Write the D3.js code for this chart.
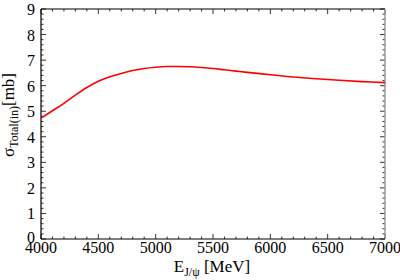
<!DOCTYPE html>
<html>
<head>
<meta charset="utf-8">
<script src="https://cdn.jsdelivr.net/npm/d3@7"></script>
<style>
  body { margin: 0; background: #fff; }
  svg { display: block; }
  text { font-family: "Liberation Serif", "DejaVu Serif", serif; }
</style>
</head>
<body>
<div id="chart"></div>
<script>
// energy of J/psi (MeV) and total inelastic cross section (mb)
const energy = [4000, 4100, 4200, 4300, 4400, 4500, 4600, 4700, 4800, 4900,
  5000, 5100, 5200, 5300, 5400, 5500, 5600, 5700, 5800, 6000,
  6200, 6400, 6600, 6800, 7000];
const sigma = [4.73, 5.02, 5.31, 5.63, 5.93, 6.17, 6.35, 6.48, 6.59, 6.67,
  6.72, 6.75, 6.75, 6.74, 6.71, 6.67, 6.62, 6.57, 6.52, 6.43,
  6.34, 6.27, 6.21, 6.16, 6.12];
const xTicks = [4000, 4500, 5000, 5500, 6000, 6500, 7000];
const yTicks = [0, 1, 2, 3, 4, 5, 6, 7, 8, 9];

const width = 400, height = 280;
const margin = { top: 9, right: 15, bottom: 41, left: 41 };

const svg = d3.select("#chart").append("svg")
  .attr("width", width)
  .attr("height", height);

const x = d3.scaleLinear().domain([4000, 7000])
  .range([margin.left, width - margin.right]);
const y = d3.scaleLinear().domain([0, 9])
  .range([height - margin.bottom, margin.top]);

const x0 = x.range()[0], x1 = x.range()[1];
const y0 = y.range()[0], y1 = y.range()[1];

// minor ticks
const xMinor = d3.range(4000, 7001, 100).filter((v) => v % 500 !== 0);
const yMinor = d3.range(0, 9.001, 0.2).filter((v) => Math.abs(v - Math.round(v)) > 1e-6);

const ticks = svg.append("g").attr("stroke", "#000").attr("stroke-width", 0.8);

// bottom & top
xTicks.forEach((v) => {
  ticks.append("line").attr("x1", x(v)).attr("x2", x(v)).attr("y1", y0).attr("y2", y0 - 5);
  ticks.append("line").attr("x1", x(v)).attr("x2", x(v)).attr("y1", y1).attr("y2", y1 + 5);
});
xMinor.forEach((v) => {
  ticks.append("line").attr("x1", x(v)).attr("x2", x(v)).attr("y1", y0).attr("y2", y0 - 2.5);
  ticks.append("line").attr("x1", x(v)).attr("x2", x(v)).attr("y1", y1).attr("y2", y1 + 2.5);
});
// left & right
yTicks.forEach((v) => {
  ticks.append("line").attr("x1", x0).attr("x2", x0 + 5).attr("y1", y(v)).attr("y2", y(v));
  ticks.append("line").attr("x1", x1).attr("x2", x1 - 5).attr("y1", y(v)).attr("y2", y(v));
});
yMinor.forEach((v) => {
  ticks.append("line").attr("x1", x0).attr("x2", x0 + 2.5).attr("y1", y(v)).attr("y2", y(v));
  ticks.append("line").attr("x1", x1).attr("x2", x1 - 2.5).attr("y1", y(v)).attr("y2", y(v));
});

// frame
svg.append("line").attr("x1", x0).attr("x2", x1).attr("y1", y1).attr("y2", y1).attr("stroke", "#000");
svg.append("line").attr("x1", x1).attr("x2", x1).attr("y1", y1).attr("y2", y0).attr("stroke", "#999").attr("stroke-width", 1.5);
svg.append("line").attr("x1", x0).attr("x2", x0).attr("y1", y1).attr("y2", y0).attr("stroke", "#000").attr("stroke-width", 1.2);
svg.append("line").attr("x1", x0).attr("x2", x1).attr("y1", y0).attr("y2", y0).attr("stroke", "#000").attr("stroke-width", 1.2);

// tick labels
svg.append("g").selectAll("text")
  .data(xTicks).join("text")
  .attr("x", (d) => x(d))
  .attr("y", y0 + 14)
  .attr("text-anchor", "middle")
  .attr("font-size", 16)
  .text((d) => d);

svg.append("g").selectAll("text")
  .data(yTicks).join("text")
  .attr("x", x0 - 6)
  .attr("y", (d) => y(d) + (d === 0 ? 4 : 6))
  .attr("text-anchor", "end")
  .attr("font-size", 16)
  .text((d) => d);

// curve
const line = d3.line()
  .x((d, i) => x(energy[i]))
  .y((d) => y(d))
  .curve(d3.curveCatmullRom.alpha(0.5));

svg.append("path")
  .datum(sigma)
  .attr("fill", "none")
  .attr("stroke", "#f00")
  .attr("stroke-width", 1.6)
  .attr("d", line);

// axis labels
const xl = svg.append("text")
  .attr("x", 212)
  .attr("y", 272)
  .attr("text-anchor", "middle")
  .attr("font-size", 17);
xl.append("tspan").text("E");
xl.append("tspan").attr("font-size", 12).attr("dy", 4).text("J/ψ");
xl.append("tspan").attr("dy", -4).text(" [MeV]");

const yl = svg.append("text")
  .attr("transform", `translate(14,${(y0 + y1) / 2 - 9}) rotate(-90)`)
  .attr("text-anchor", "middle")
  .attr("font-size", 17);
yl.append("tspan").text("σ");
yl.append("tspan").attr("font-size", 12).attr("dy", 4).text("Total(in)");
yl.append("tspan").attr("dy", -4).text("[mb]");
</script>
</body>
</html>
